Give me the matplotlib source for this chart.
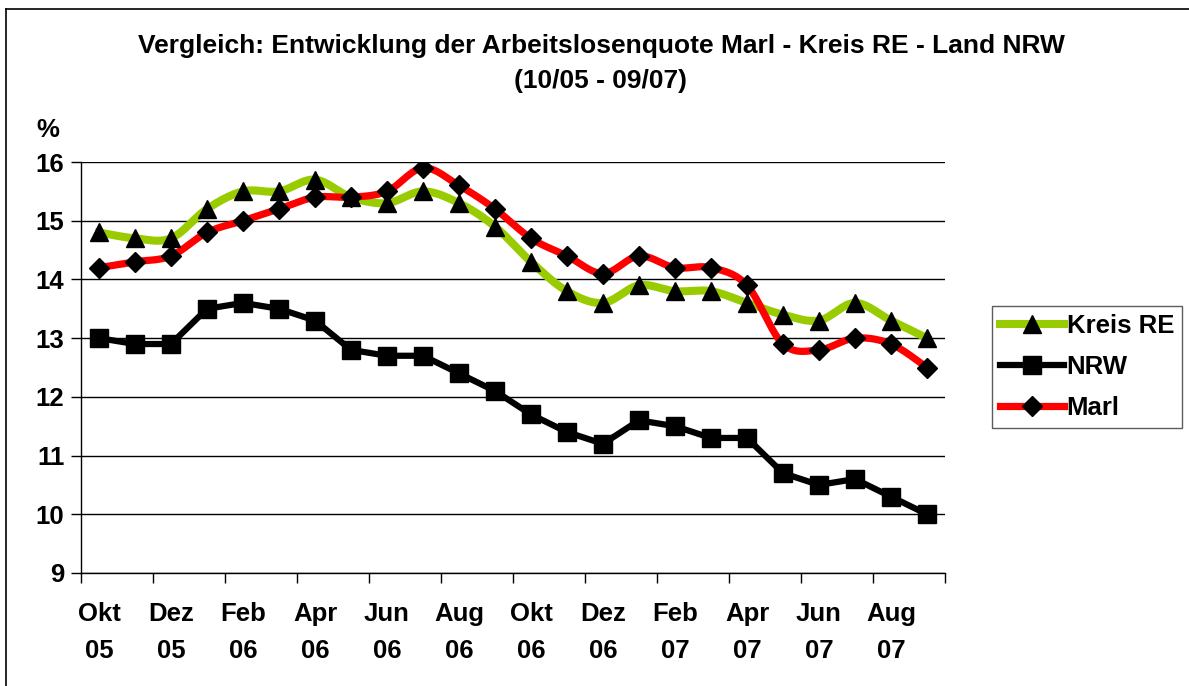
import numpy as np
import matplotlib
matplotlib.use("Agg")
from matplotlib import pyplot as plt
from matplotlib.lines import Line2D

plt.rcParams['font.family'] = ['Liberation Sans', 'DejaVu Sans']
plt.rcParams['font.weight'] = 'bold'

# monthly values Okt 05 - Sep 07
months = ["Okt\n05", "Nov\n05", "Dez\n05", "Jan\n06", "Feb\n06", "Mrz\n06", "Apr\n06", "Mai\n06",
          "Jun\n06", "Jul\n06", "Aug\n06", "Sep\n06", "Okt\n06", "Nov\n06", "Dez\n06", "Jan\n07",
          "Feb\n07", "Mrz\n07", "Apr\n07", "Mai\n07", "Jun\n07", "Jul\n07", "Aug\n07", "Sep\n07"]
kreis_re = [14.8, 14.7, 14.7, 15.2, 15.5, 15.5, 15.7, 15.4, 15.3, 15.5, 15.3, 14.9,
            14.3, 13.8, 13.6, 13.9, 13.8, 13.8, 13.6, 13.4, 13.3, 13.6, 13.3, 13.0]
nrw = [13.0, 12.9, 12.9, 13.5, 13.6, 13.5, 13.3, 12.8, 12.7, 12.7, 12.4, 12.1,
       11.7, 11.4, 11.2, 11.6, 11.5, 11.3, 11.3, 10.7, 10.5, 10.6, 10.3, 10.0]
marl = [14.2, 14.3, 14.4, 14.8, 15.0, 15.2, 15.4, 15.4, 15.5, 15.9, 15.6, 15.2,
        14.7, 14.4, 14.1, 14.4, 14.2, 14.2, 13.9, 12.9, 12.8, 13.0, 12.9, 12.5]


def smooth(x, y, n=20):
    # bezier smoothing like excel's "smoothed line"
    x = np.asarray(x, float)
    y = np.asarray(y, float)
    xs, ys = [], []
    for i in range(len(x) - 1):
        p0 = (x[max(i - 1, 0)], y[max(i - 1, 0)])
        p1 = (x[i], y[i])
        p2 = (x[i + 1], y[i + 1])
        p3 = (x[min(i + 2, len(x) - 1)], y[min(i + 2, len(x) - 1)])
        c1 = (p1[0] + (p2[0] - p0[0]) / 6, p1[1] + (p2[1] - p0[1]) / 6)
        c2 = (p2[0] - (p3[0] - p1[0]) / 6, p2[1] - (p3[1] - p1[1]) / 6)
        t = np.linspace(0, 1, n, endpoint=False)
        for a, b, c, d, out in ((p1[0], c1[0], c2[0], p2[0], xs), (p1[1], c1[1], c2[1], p2[1], ys)):
            out.extend((1 - t) ** 3 * a + 3 * (1 - t) ** 2 * t * b + 3 * (1 - t) * t ** 2 * c + t ** 3 * d)
    xs.append(x[-1])
    ys.append(y[-1])
    return xs, ys


fs = 18.5
fig = plt.figure(figsize=(11.89, 6.86), dpi=100)
ax = fig.add_axes([81 / 1189, 1 - 573 / 686, 864 / 1189, 411 / 686])

x = np.arange(len(months))
green = '#99CC00'

ax.plot(*smooth(x, kreis_re), color=green, lw=5.8, zorder=3)
ax.plot(x, kreis_re, ls='none', marker='^', ms=13, color='black', zorder=4)
ax.plot(x, nrw, color='black', lw=4.5, marker='s', ms=13, zorder=3)
ax.plot(*smooth(x, marl), color='red', lw=5.2, zorder=3)
ax.plot(x, marl, ls='none', marker='D', ms=10, color='black', zorder=4)

ax.set_xlim(-0.5, len(months) - 0.5)
ax.set_ylim(9, 16)
ax.set_yticks(range(9, 17))
ax.yaxis.grid(True, color='black', lw=1)
ax.set_axisbelow(True)

ax.set_xticks(np.arange(-0.5, len(months), 2))
ax.set_xticklabels([])
ax.set_xticks(x[::2], minor=True)
ax.set_xticklabels(months[::2], minor=True, fontsize=fs, fontweight='bold', linespacing=1.65)
ax.tick_params(axis='x', which='minor', length=0, pad=21)
ax.tick_params(axis='x', which='major', length=7, width=1, direction='out')
ax.tick_params(axis='y', length=7, width=1, labelsize=fs, pad=5)
for t in ax.get_yticklabels():
    t.set_fontweight('bold')

for s in ['top', 'right']:
    ax.spines[s].set_visible(False)
for s in ['left', 'bottom']:
    ax.spines[s].set_linewidth(1)

fig.text(48 / 1189, 1 - 130 / 686, '%', fontsize=fs, fontweight='bold', ha='center', va='center')
fig.text(601 / 1189, 1 - 46 / 686, 'Vergleich: Entwicklung der Arbeitslosenquote Marl - Kreis RE - Land NRW',
         fontsize=19, fontweight='bold', ha='center', va='center')
fig.text(601 / 1189, 1 - 81 / 686, '(10/05 - 09/07)', fontsize=19, fontweight='bold', ha='center', va='center')

handles = [
    Line2D([], [], color=green, lw=5.8, marker='^', ms=13, mfc='black', mec='black'),
    Line2D([], [], color='black', lw=4.5, marker='s', ms=13),
    Line2D([], [], color='red', lw=5.2, marker='D', ms=10, mfc='black', mec='black'),
]
leg = fig.legend(handles, ['Kreis RE', 'NRW', 'Marl'], loc='upper left',
                 bbox_to_anchor=(992 / 1189, 1 - 306 / 686), frameon=True, fancybox=False,
                 edgecolor='#333333', prop={'weight': 'bold', 'size': fs},
                 handlelength=2.5, handletextpad=0.1, borderpad=0.3, labelspacing=0.67,
                 borderaxespad=0)
leg.get_frame().set_linewidth(1)

# outer chart frame (top and left edges visible)
fig.add_artist(Line2D([6 / 1189, 6 / 1189], [0, 1 - 9 / 686], color='black', lw=1.2, transform=fig.transFigure))
fig.add_artist(Line2D([6 / 1189, 1], [1 - 9 / 686, 1 - 9 / 686], color='black', lw=1.2, transform=fig.transFigure))

fig.savefig('out.png', dpi=100)
